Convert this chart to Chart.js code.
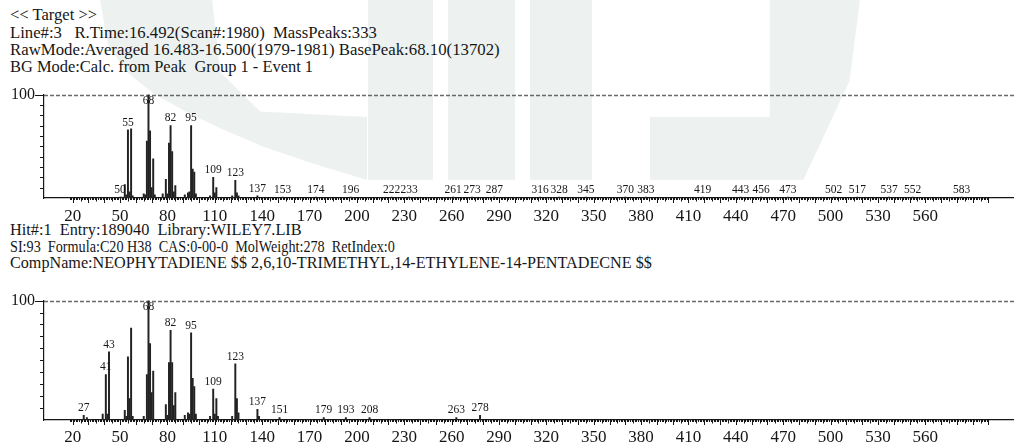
<!DOCTYPE html>
<html>
<head>
<meta charset="utf-8">
<script src="https://cdn.jsdelivr.net/npm/chart.js@4.4.1/dist/chart.umd.min.js"></script>
<style>
  body { margin: 0; background: #fff; width: 1014px; height: 447px; overflow: hidden; position: relative;
         font-family: "Liberation Serif", "Times New Roman", serif; color: #161616; }
  .wm { position: absolute; background: #edf2f0; }
  .hl { position: absolute; left: 10px; font-size: 16px; line-height: 17px; white-space: pre; transform-origin: 0 50%; }
  canvas { position: absolute; left: 0; }
</style>
</head>
<body>
<!-- watermark -->
<div class="wm" style="left:100px;top:0;width:267px;height:180px;clip-path:polygon(0 0,3% 25%,10% 40%,20% 52%,32% 62%,46% 72%,62% 82%,80% 91%,100% 100%,100% 65%,60% 62%,45% 40%,42% 0)"></div>
<div class="wm" style="left:368px;top:0;width:65px;height:180px"></div>
<div class="wm" style="left:448px;top:0;width:67px;height:180px"></div>
<div class="wm" style="left:530px;top:0;width:62px;height:180px"></div>
<div class="wm" style="left:650px;top:0;width:210px;height:180px;clip-path:polygon(57% 0,100% 0,95% 45%,73% 100%,0 100%,0 65%,57% 65%)"></div>

<div class="hl" style="top:6px" data-end="97">&lt;&lt; Target &gt;&gt;</div>
<div class="hl" style="top:24px" data-end="377">Line#:3   R.Time:16.492(Scan#:1980)  MassPeaks:333</div>
<div class="hl" style="top:41px" data-end="500">RawMode:Averaged 16.483-16.500(1979-1981) BasePeak:68.10(13702)</div>
<div class="hl" style="top:58px" data-end="313">BG Mode:Calc. from Peak  Group 1 - Event 1</div>
<div class="hl" style="top:221px" data-end="302">Hit#:1  Entry:189040  Library:WILEY7.LIB</div>
<div class="hl" style="top:238px" data-end="395">SI:93  Formula:C20 H38  CAS:0-00-0  MolWeight:278  RetIndex:0</div>
<div class="hl" style="top:254px" data-end="">CompName:NEOPHYTADIENE $$ 2,6,10-TRIMETHYL,14-ETHYLENE-14-PENTADECNE $$</div>

<canvas id="target" style="top:76px;width:1014px;height:154px" width="1014" height="154"></canvas>
<canvas id="hit" style="top:282px;width:1014px;height:165px" width="1014" height="165"></canvas>

<script>
const xTickValues = [20, 50, 80, 110, 140, 170, 200, 230, 260, 290, 320, 350, 380, 410, 440, 470, 500, 530, 560];

// << Target >> spectrum
const targetMz = [50, 51, 53, 54, 55, 56, 57, 58, 65, 66, 67, 68, 69, 70, 71, 72, 77, 79, 80, 81, 82, 83, 84, 85,
  91, 93, 94, 95, 96, 97, 98, 107, 109, 110, 111, 121, 123, 124, 125, 137, 153, 174, 196, 222, 233, 261, 273, 287,
  316, 328, 345, 370, 383, 419, 443, 456, 473, 502, 517, 537, 552, 583];
const targetInt = [1, 1, 13, 3, 66, 6, 67, 2, 4, 3, 55, 100, 65, 10, 38, 3, 4, 18, 4, 53, 70, 45, 6, 12,
  3, 5, 6, 70, 28, 25, 4, 2, 20, 5, 10, 2, 17, 5, 2, 2, 1, 1, 1, 1, 1, 1, 1, 1,
  1, 1, 1, 1, 1, 1, 1, 1, 1, 1, 1, 1, 1, 1];
const targetLabels = [50, 55, 68, 82, 95, 109, 123, 137, 153, 174, 196, 222, 233, 261, 273, 287, 316, 328, 345,
  370, 383, 419, 443, 456, 473, 502, 517, 537, 552, 583];

// Hit#:1 library spectrum
const hitMz = [27, 29, 39, 41, 42, 43, 53, 54, 55, 56, 57, 58, 65, 67, 68, 69, 70, 71, 79, 80, 81, 82, 83, 84, 85,
  91, 93, 94, 95, 96, 97, 98, 107, 109, 110, 111, 112, 121, 123, 124, 125, 137, 138, 151, 179, 193, 208, 263, 278];
const hitInt = [4, 2, 5, 38, 5, 57, 8, 3, 53, 18, 77, 3, 3, 38, 100, 64, 23, 41, 13, 4, 48, 75, 48, 12, 23,
  4, 6, 5, 73, 35, 28, 5, 3, 26, 5, 18, 3, 3, 47, 18, 6, 9, 3, 2, 2, 2, 2, 2, 4];
const hitLabels = [27, 41, 43, 68, 82, 95, 109, 123, 137, 151, 179, 193, 208, 263, 278];

const FONT = '"Liberation Serif", "Times New Roman", serif';

// stretch header lines to the width they have in the printout
const lines = [...document.querySelectorAll('.hl')];
const scales = [];
lines.forEach(el => {
  const end = parseFloat(el.dataset.end);
  if (end) { const k = (end - 10) / el.offsetWidth; scales.push(k); el.style.transform = `scaleX(${k})`; }
});
const avgK = scales.reduce((a, b) => a + b, 0) / scales.length;
lines.forEach(el => { if (!el.dataset.end) el.style.transform = `scaleX(${avgK})`; });

// axis ticks, dotted 100% line and peak labels
const spectrumDecor = {
  id: 'spectrumDecor',
  beforeDatasetsDraw(chart) {
    const { ctx, chartArea: a, scales: { x, y } } = chart;
    const y100 = Math.round(y.getPixelForValue(100)) + 0.5;
    ctx.save();
    ctx.strokeStyle = 'rgba(80,80,80,0.85)';
    ctx.lineWidth = 1.3;
    ctx.setLineDash([4, 2]);
    ctx.beginPath(); ctx.moveTo(a.left, y100); ctx.lineTo(a.right, y100); ctx.stroke();
    ctx.setLineDash([]);
    ctx.strokeStyle = '#161616';
    ctx.lineWidth = 1;
    ctx.beginPath();
    ctx.moveTo(a.left - 9, y100); ctx.lineTo(a.left, y100);
    for (let v = 10; v < 100; v += 10) {
      const py = Math.round(y.getPixelForValue(v)) + 0.5;
      ctx.moveTo(a.left - 4, py); ctx.lineTo(a.left, py);
    }
    for (let v = 18; v <= 600; v++) {
      const px = Math.round(x.getPixelForValue(v)) + 0.5;
      const len = v % 10 === 0 ? 5 : v % 5 === 0 ? 3.5 : 2;
      ctx.moveTo(px, a.bottom); ctx.lineTo(px, a.bottom + len);
    }
    ctx.stroke();
    ctx.restore();
  },
  afterDatasetsDraw(chart) {
    const { ctx, chartArea: a, scales: { x, y } } = chart;
    const ds = chart.data.datasets[0];
    ctx.save();
    ctx.fillStyle = '#161616';
    ctx.font = '11.5px ' + FONT;
    ctx.textAlign = 'center';
    ctx.textBaseline = 'bottom';
    ds.peakLabels.forEach(m => {
      const p = ds.data.find(d => d.x === m);
      const top = y.getPixelForValue(p ? p.y : 0);
      ctx.fillText(String(m), x.getPixelForValue(m), Math.max(top - 1.5, a.top + 12));
    });
    ctx.restore();
  }
};

function drawSpectrum(id, mz, inten, labels, axisHeight, labelPad) {
  new Chart(document.getElementById(id), {
    type: 'bar',
    data: {
      datasets: [{
        data: mz.map((m, i) => ({ x: m, y: inten[i] })),
        backgroundColor: '#222',
        barThickness: 1.3,
        peakLabels: labels
      }]
    },
    options: {
      responsive: false,
      animation: false,
      devicePixelRatio: 1,
      layout: { padding: { top: 10, left: 0, right: 0, bottom: 0 } },
      plugins: { legend: { display: false }, tooltip: { enabled: false } },
      scales: {
        x: {
          type: 'linear', min: 18, max: 600,
          afterBuildTicks: axis => { axis.ticks = xTickValues.map(v => ({ value: v })); },
          afterFit: s => { s.height = axisHeight; },
          grid: { display: false, drawTicks: false, tickLength: 0 },
          border: { display: true, color: '#161616', width: 1.2 },
          ticks: { autoSkip: false, maxRotation: 0, padding: labelPad, color: '#161616', font: { family: FONT, size: 17 } }
        },
        y: {
          min: 0, max: 100,
          afterBuildTicks: axis => { axis.ticks = [{ value: 100 }]; },
          afterFit: s => { s.width = 44; },
          grid: { display: false, drawTicks: false, tickLength: 0 },
          border: { display: true, color: '#161616', width: 1.2 },
          ticks: { padding: 9, color: '#161616', font: { family: FONT, size: 16 } }
        }
      }
    },
    plugins: [spectrumDecor]
  });
}

drawSpectrum('target', targetMz, targetInt, targetLabels, 32, 8);
drawSpectrum('hit', hitMz, hitInt, hitLabels, 27, 7);
</script>
</body>
</html>
